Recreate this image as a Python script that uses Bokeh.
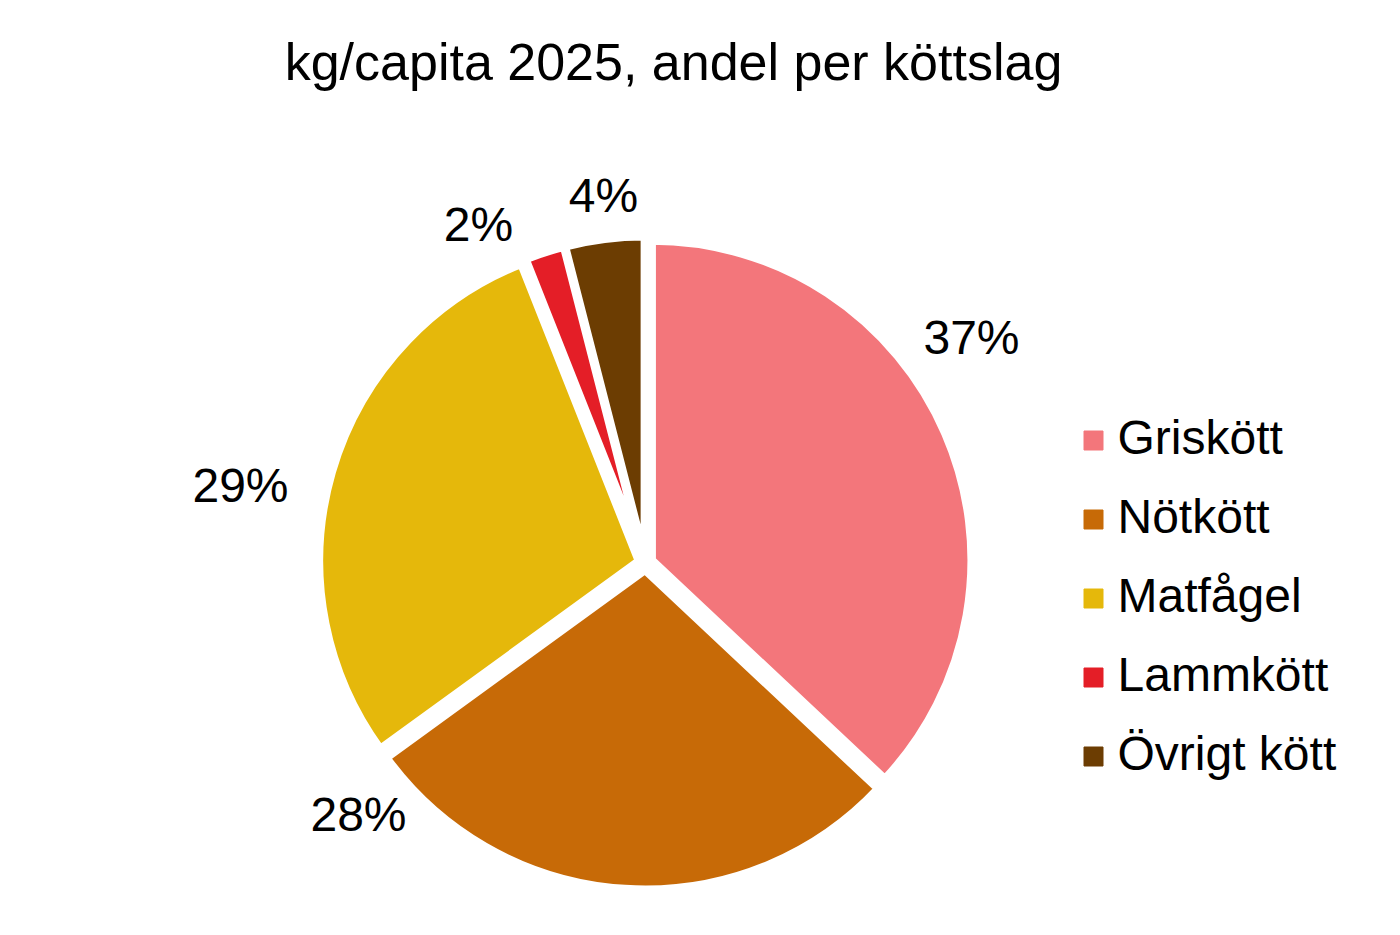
import math
from bokeh.plotting import figure
from bokeh.models import Range1d, ColumnDataSource
from bokeh.core.properties import value
from bokeh.embed import file_html
from bokeh.resources import INLINE

# ---- data ----
categories = ["Griskött", "Nötkött", "Matfågel", "Lammkött", "Övrigt kött"]
shares = [37, 28, 29, 2, 4]
labels = ["37%", "28%", "29%", "2%", "4%"]
colors = ["#F3767B", "#C76A07", "#E5B80B", "#E41E27", "#6C3D02"]
title_text = "kg/capita 2025, andel per köttslag"

# ---- layout (pixels) ----
W, H = 1384, 919
FONT = "Liberation Sans"
BASE_FIX = 18                # compensation for svg text baseline placement
cx, cy = 645, 356.5          # pie centre
radius = 319.5               # drawn radius (white border eats ~4px)
explode = 7                  # explosion offset of every slice
border = 8
# label anchor offsets from the pie centre (dx, dy), y up
label_offsets = [(326, 207.5), (-287, -269.5), (-405, 59.5), (-167, 320.5), (-42, 349.5)]

p = figure(width=W, height=H, output_backend="svg", toolbar_location=None,
           x_range=Range1d(0, W), y_range=Range1d(0, H), min_border=0,
           outline_line_color=None, background_fill_color="white",
           border_fill_color="white")
p.axis.visible = False
p.grid.visible = False

total = sum(shares)
starts, ends, xs, ys = [], [], [], []
cum = 0.0
for s in shares:
    a1 = cum / total * 2 * math.pi          # clockwise from top
    a2 = (cum + s) / total * 2 * math.pi
    am = (a1 + a2) / 2
    starts.append(math.pi / 2 - a1)
    ends.append(math.pi / 2 - a2)
    xs.append(cx + explode * math.sin(am))
    ys.append(cy + explode * math.cos(am))
    cum += s

src = ColumnDataSource(dict(x=xs, y=ys, start=starts, end=ends, color=colors, cat=categories))
p.wedge(x="x", y="y", radius=radius, radius_units="screen", start_angle="start", end_angle="end",
        direction="clock", fill_color="color", line_color="white", line_width=border,
        line_join="round", source=src)

# percentage labels
lsrc = ColumnDataSource(dict(x=[cx + dx for dx, _ in label_offsets],
                             y=[cy + dy + BASE_FIX for _, dy in label_offsets], t=labels))
p.text(x="x", y="y", text="t", source=lsrc, text_align="center", text_baseline="alphabetic",
       text_font=value(FONT), text_font_size="48px", text_color="black")

# title
p.text(x=[673], y=[H - 79 + BASE_FIX], text=[title_text], text_align="center",
       text_baseline="alphabetic", text_font=value(FONT), text_font_size="52px",
       text_color="black")

# legend
leg_x, leg_y0, leg_step = 1093, H - 440, 79
n = len(categories)
gsrc = ColumnDataSource(dict(x=[leg_x] * n,
                             y=[leg_y0 - i * leg_step for i in range(n)],
                             ty=[leg_y0 - 15 + BASE_FIX - i * leg_step for i in range(n)],
                             tx=[leg_x + 24] * n,
                             color=colors, cat=categories))
p.scatter(x="x", y="y", marker="square", size=19, fill_color="color", line_color="color",
          line_width=1, source=gsrc)
p.text(x="tx", y="ty", text="cat", source=gsrc, text_align="left", text_baseline="alphabetic",
       text_font=value(FONT), text_font_size="48px", text_color="black")

open("out.html", "w").write(file_html(p, INLINE))
